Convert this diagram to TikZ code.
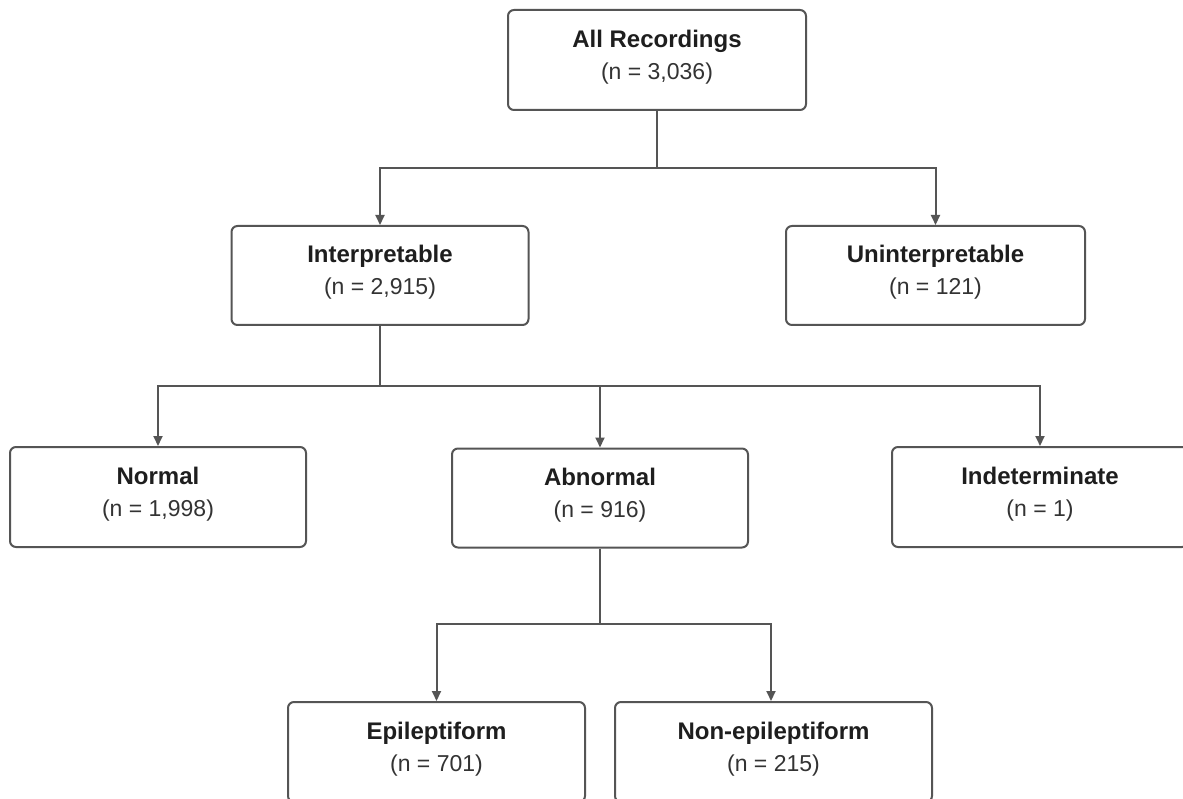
\documentclass[tikz,border=0pt]{standalone}
\usepackage{fontspec}
\setmainfont{Liberation Sans}
\usetikzlibrary{arrows.meta}
\definecolor{linegray}{HTML}{555555}
\definecolor{titlec}{HTML}{1E1E1E}
\definecolor{countc}{HTML}{333333}
\newcommand{\boxtext}[2]{{\fontsize{24}{32}\selectfont\bfseries #1}\\{\fontsize{23}{32}\selectfont\color{countc}#2\rule[-11pt]{0pt}{11pt}}}
\begin{document}
\begin{tikzpicture}[x=1pt,y=-1pt,
  box/.style={draw=linegray, line width=2pt, rounded corners=6pt,
    minimum width=297pt, minimum height=99pt, align=center, inner sep=0pt,
    font=\fontsize{23}{32}\selectfont, text=titlec},
  line/.style={draw=linegray, line width=2pt},
  conn/.style={line, -{Triangle[length=10pt,width=9pt]}}]
\useasboundingbox (0,0) rectangle (1183,799);
\fill[white] (0,0) rectangle (1183,799);
\clip (0,0) rectangle (1183,799);

\node[box, minimum width=298pt, minimum height=100pt] (top) at (657,60)
  {\boxtext{All Recordings}{(n = 3,036)}};
\node[box] (interp) at (380,275.5)
  {\boxtext{Interpretable}{(n = 2,915)}};
\node[box, minimum width=299pt] (uninterp) at (935.5,275.5)
  {\boxtext{Uninterpretable}{(n = 121)}};
\node[box, minimum width=296pt, minimum height=100pt] (normal) at (158,497)
  {\boxtext{Normal}{(n = 1,998)}};
\node[box, minimum width=296pt] (abnormal) at (600,498)
  {\boxtext{Abnormal}{(n = 916)}};
\node[box, minimum width=296pt, minimum height=100pt] (indet) at (1040,497)
  {\boxtext{Indeterminate}{(n = 1)}};
\node[box, minimum height=100pt] (epi) at (436.5,752)
  {\boxtext{Epileptiform}{(n = 701)}};
\node[box, minimum width=317pt, minimum height=100pt] (nonepi) at (773.5,752)
  {\boxtext{Non-epileptiform}{(n = 215)}};

\coordinate (j1) at (657,168);
\coordinate (j2) at (380,386);
\coordinate (j3) at (600,624);

\draw[line] (top.south) -- (j1);
\draw[conn] (j1) -| (interp.north);
\draw[conn] (j1) -| (uninterp.north);

\draw[line] (interp.south) -- (j2);
\draw[conn] (j2) -| (normal.north);
\draw[conn] (j2) -| (abnormal.north);
\draw[conn] (j2) -| (indet.north);

\draw[line] (abnormal.south) -- (j3);
\draw[conn] (j3) -| (epi.north);
\draw[conn] (j3) -| ([xshift=-2.5pt]nonepi.north);
\end{tikzpicture}
\end{document}
